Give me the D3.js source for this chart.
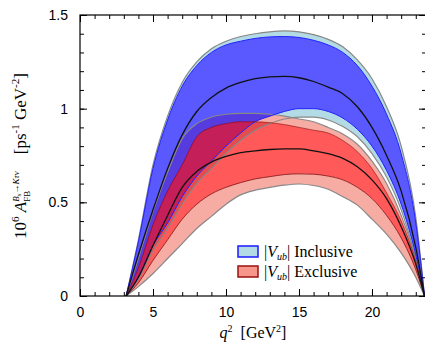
<!DOCTYPE html>
<html>
<head>
<meta charset="utf-8">
<script src="https://cdn.jsdelivr.net/npm/d3@7"></script>
<style>
  html, body { margin: 0; padding: 0; background: #fff; }
  svg { display: block; }
</style>
</head>
<body>
<svg id="chart" width="425" height="347"></svg>
<script>
// ---------------- DATA ----------------
const q2 = [3.16, 4, 5, 6, 7, 8, 9, 10, 11, 12, 13, 14, 15, 16, 17, 18, 19, 20, 21, 22, 23, 23.6];

// |Vub| inclusive (blue)
const blueOuterUpper = [0, 0.30, 0.70, 0.96, 1.14, 1.25, 1.32, 1.36, 1.385, 1.40, 1.41, 1.415, 1.41, 1.395, 1.37, 1.33, 1.26, 1.16, 1.01, 0.80, 0.42, 0];
const blueInnerUpper = [0, 0.29, 0.68, 0.94, 1.12, 1.23, 1.30, 1.34, 1.36, 1.375, 1.383, 1.385, 1.38, 1.365, 1.34, 1.30, 1.23, 1.12, 0.97, 0.76, 0.39, 0];
const blueCentral    = [0, 0.22, 0.46, 0.68, 0.86, 0.985, 1.06, 1.11, 1.14, 1.16, 1.17, 1.172, 1.165, 1.145, 1.115, 1.08, 1.01, 0.90, 0.75, 0.56, 0.26, 0];
const blueInnerLower = [0, 0.10, 0.27, 0.39, 0.53, 0.64, 0.72, 0.80, 0.87, 0.93, 0.96, 0.985, 1.00, 1.00, 0.985, 0.95, 0.89, 0.80, 0.67, 0.49, 0.22, 0];
const blueOuterLower = [0, 0.09, 0.24, 0.36, 0.49, 0.60, 0.68, 0.76, 0.83, 0.885, 0.92, 0.945, 0.955, 0.955, 0.94, 0.905, 0.85, 0.76, 0.635, 0.46, 0.20, 0];

// |Vub| exclusive (red)
const redOuterUpper = [0, 0.20, 0.45, 0.66, 0.84, 0.92, 0.955, 0.97, 0.975, 0.975, 0.97, 0.96, 0.945, 0.93, 0.90, 0.865, 0.81, 0.72, 0.60, 0.43, 0.20, 0];
const redInnerUpper = [0, 0.15, 0.38, 0.56, 0.70, 0.85, 0.90, 0.92, 0.93, 0.93, 0.925, 0.915, 0.90, 0.885, 0.87, 0.83, 0.77, 0.68, 0.55, 0.40, 0.185, 0];
const redCentral    = [0, 0.10, 0.27, 0.43, 0.58, 0.665, 0.715, 0.745, 0.765, 0.775, 0.782, 0.785, 0.785, 0.775, 0.76, 0.735, 0.69, 0.62, 0.52, 0.37, 0.17, 0];
const redInnerLower = [0, 0.07, 0.19, 0.30, 0.41, 0.49, 0.545, 0.58, 0.605, 0.625, 0.637, 0.648, 0.652, 0.65, 0.64, 0.62, 0.58, 0.52, 0.43, 0.31, 0.14, 0];
const redOuterLower = [0, 0.05, 0.12, 0.20, 0.28, 0.36, 0.425, 0.49, 0.54, 0.565, 0.58, 0.592, 0.598, 0.59, 0.57, 0.53, 0.485, 0.41, 0.33, 0.23, 0.10, 0];

const xTicks = [0, 5, 10, 15, 20];
const yTicks = [0, 0.5, 1, 1.5];
const legendLabels = ["Inclusive", "Exclusive"];

// ---------------- LAYOUT ----------------
const svg = d3.select("#chart");
const padL = 80, padR = 426, padT = 15, padB = 296;
const x = d3.scaleLinear().domain([0, 23.7]).range([padL, padR]);
const y = d3.scaleLinear().domain([0, 1.5]).range([padB, padT]);

const rows = q2.map((q, i) => ({
  q,
  bou: blueOuterUpper[i], biu: blueInnerUpper[i], bc: blueCentral[i], bil: blueInnerLower[i], bol: blueOuterLower[i],
  rou: redOuterUpper[i], riu: redInnerUpper[i], rc: redCentral[i], ril: redInnerLower[i], rol: redOuterLower[i]
}));

const curve = d3.curveMonotoneX;
const band = (lo, hi) => d3.area().curve(curve).x(d => x(d.q)).y0(d => y(d[lo])).y1(d => y(d[hi]));
const line = (k) => d3.line().curve(curve).x(d => x(d.q)).y(d => y(d[k]));

svg.append("clipPath").attr("id", "clip").append("rect")
  .attr("x", padL).attr("y", padT).attr("width", padR - padL).attr("height", padB - padT);
const g = svg.append("g").attr("clip-path", "url(#clip)");

const lightBlue = "#b3dbe6";
const pink = "#f6aba3";

// outer strips
g.append("path").datum(rows).attr("d", band("biu", "bou")).attr("fill", lightBlue);
g.append("path").datum(rows).attr("d", band("bol", "bil")).attr("fill", lightBlue);
g.append("path").datum(rows).attr("d", band("riu", "rou")).attr("fill", pink);
g.append("path").datum(rows).attr("d", band("rol", "ril")).attr("fill", pink);
// inner bands
g.append("path").datum(rows).attr("d", band("bil", "biu")).attr("fill", "rgba(0,0,255,0.65)");
g.append("path").datum(rows).attr("d", band("ril", "riu")).attr("fill", "rgba(255,0,0,0.65)");

// lines
[["bou", "#888", 1.2], ["bol", "#888", 1.1], ["rou", "#888", 1.1], ["rol", "#888", 1.2]].forEach(([k, c, w]) =>
  g.append("path").datum(rows).attr("d", line(k)).attr("fill", "none").attr("stroke", c).attr("stroke-width", w));
[["biu", "#2020ff"], ["bil", "#2020ff"]].forEach(([k, c]) =>
  g.append("path").datum(rows).attr("d", line(k)).attr("fill", "none").attr("stroke", c).attr("stroke-width", 1));
[["riu", "rgba(140,0,0,0.6)"], ["ril", "rgba(110,0,0,0.7)"]].forEach(([k, c]) =>
  g.append("path").datum(rows).attr("d", line(k)).attr("fill", "none").attr("stroke", c).attr("stroke-width", 1));
["bc", "rc"].forEach(k =>
  g.append("path").datum(rows).attr("d", line(k)).attr("fill", "none").attr("stroke", "#111").attr("stroke-width", 1.3));

// ---------------- AXES ----------------
const minorX = d3.range(0, 24, 1);
const minorY = d3.range(0, 1.51, 0.1);
const font = "'Liberation Sans', Arial, sans-serif";

function styleAxis(sel) {
  sel.select(".domain").remove();
  sel.selectAll("line").attr("stroke", "#000").attr("stroke-width", 1);
  sel.selectAll("text").attr("font-family", font).attr("font-size", 14).attr("fill", "#000");
}

svg.append("g").attr("transform", `translate(0,${padB})`)
  .call(d3.axisBottom(x).tickValues(minorX).tickSize(-4).tickFormat("")).call(styleAxis);
svg.append("g").attr("transform", `translate(0,${padB})`)
  .call(d3.axisBottom(x).tickValues(xTicks).tickSize(-7).tickPadding(11).tickFormat(d3.format("d"))).call(styleAxis);
svg.append("g").attr("transform", `translate(0,${padT})`)
  .call(d3.axisTop(x).tickValues(minorX).tickSize(-4).tickFormat("")).call(styleAxis);
svg.append("g").attr("transform", `translate(0,${padT})`)
  .call(d3.axisTop(x).tickValues(xTicks).tickSize(-7).tickFormat("")).call(styleAxis);

svg.append("g").attr("transform", `translate(${padL},0)`)
  .call(d3.axisLeft(y).tickValues(minorY).tickSize(-4).tickFormat("")).call(styleAxis);
svg.append("g").attr("transform", `translate(${padL},0)`)
  .call(d3.axisLeft(y).tickValues(yTicks).tickSize(-7).tickPadding(12).tickFormat(d => d === 0 ? "0" : d === 1 ? "1" : d3.format(".1f")(d))).call(styleAxis);
svg.append("g").attr("transform", `translate(${padR},0)`)
  .call(d3.axisRight(y).tickValues(minorY).tickSize(-4).tickFormat("")).call(styleAxis);
svg.append("g").attr("transform", `translate(${padR},0)`)
  .call(d3.axisRight(y).tickValues(yTicks).tickSize(-7).tickFormat("")).call(styleAxis);

svg.append("rect").attr("x", padL).attr("y", padT).attr("width", padR - padL).attr("height", padB - padT)
  .attr("fill", "none").attr("stroke", "#000").attr("stroke-width", 1.2);

// ---------------- LABELS ----------------
const serif = "'Liberation Serif', 'Times New Roman', serif";

const xl = svg.append("text").attr("x", 253).attr("y", 338).attr("text-anchor", "middle")
  .attr("font-family", serif).attr("font-size", 16).attr("fill", "#000");
xl.append("tspan").attr("font-style", "italic").text("q");
xl.append("tspan").attr("font-size", 10).attr("dy", -6).text("2");
xl.append("tspan").attr("dy", 6).text("\u2002[GeV");
xl.append("tspan").attr("font-size", 10).attr("dy", -6).text("2");
xl.append("tspan").attr("dy", 6).text("]");

const yl = svg.append("text").attr("transform", "translate(26,156) rotate(-90)").attr("text-anchor", "middle")
  .attr("font-family", serif).attr("font-size", 17).attr("fill", "#000");
yl.append("tspan").text("10");
yl.append("tspan").attr("font-size", 11).attr("dy", -7).text("6");
yl.append("tspan").attr("dy", 7).text(" ");
yl.append("tspan").attr("font-style", "italic").text("A");
yl.append("tspan").attr("font-size", 9).attr("dy", 4).text("FB");
yl.append("tspan").attr("font-size", 9).attr("font-style", "italic").attr("dx", -11).attr("dy", -11).text("B");
yl.append("tspan").attr("font-size", 7).attr("font-style", "italic").attr("dy", 2).text("s");
yl.append("tspan").attr("font-size", 9).attr("font-style", "italic").attr("dy", -2).text("\u2192K\u03c4\u03bd");
yl.append("tspan").attr("dy", 7).text("\u2003[ps");
yl.append("tspan").attr("font-size", 11).attr("dy", -7).text("-1");
yl.append("tspan").attr("dy", 7).text(" GeV");
yl.append("tspan").attr("font-size", 11).attr("dy", -7).text("-2");
yl.append("tspan").attr("dy", 7).text("]");

// ---------------- LEGEND ----------------
const legend = svg.append("g");
const swatches = [
  { fill: lightBlue, stroke: "#1a1aff" },
  { fill: "#f7968a", stroke: "#9b1010" }
];
legendLabels.forEach((lab, i) => {
  const yy = 246 + i * 20;
  legend.append("rect").attr("x", 238).attr("y", yy).attr("width", 20).attr("height", 11)
    .attr("fill", swatches[i].fill).attr("stroke", swatches[i].stroke).attr("stroke-width", 1.5);
  const t = legend.append("text").attr("x", 264).attr("y", yy + 10.5)
    .attr("font-family", serif).attr("font-size", 16).attr("fill", "#000");
  t.append("tspan").text("|");
  t.append("tspan").attr("font-style", "italic").text("V");
  t.append("tspan").attr("font-style", "italic").attr("font-size", 10).attr("dy", 3).text("ub");
  t.append("tspan").attr("dy", -3).text("| " + lab);
});
</script>
</body>
</html>
